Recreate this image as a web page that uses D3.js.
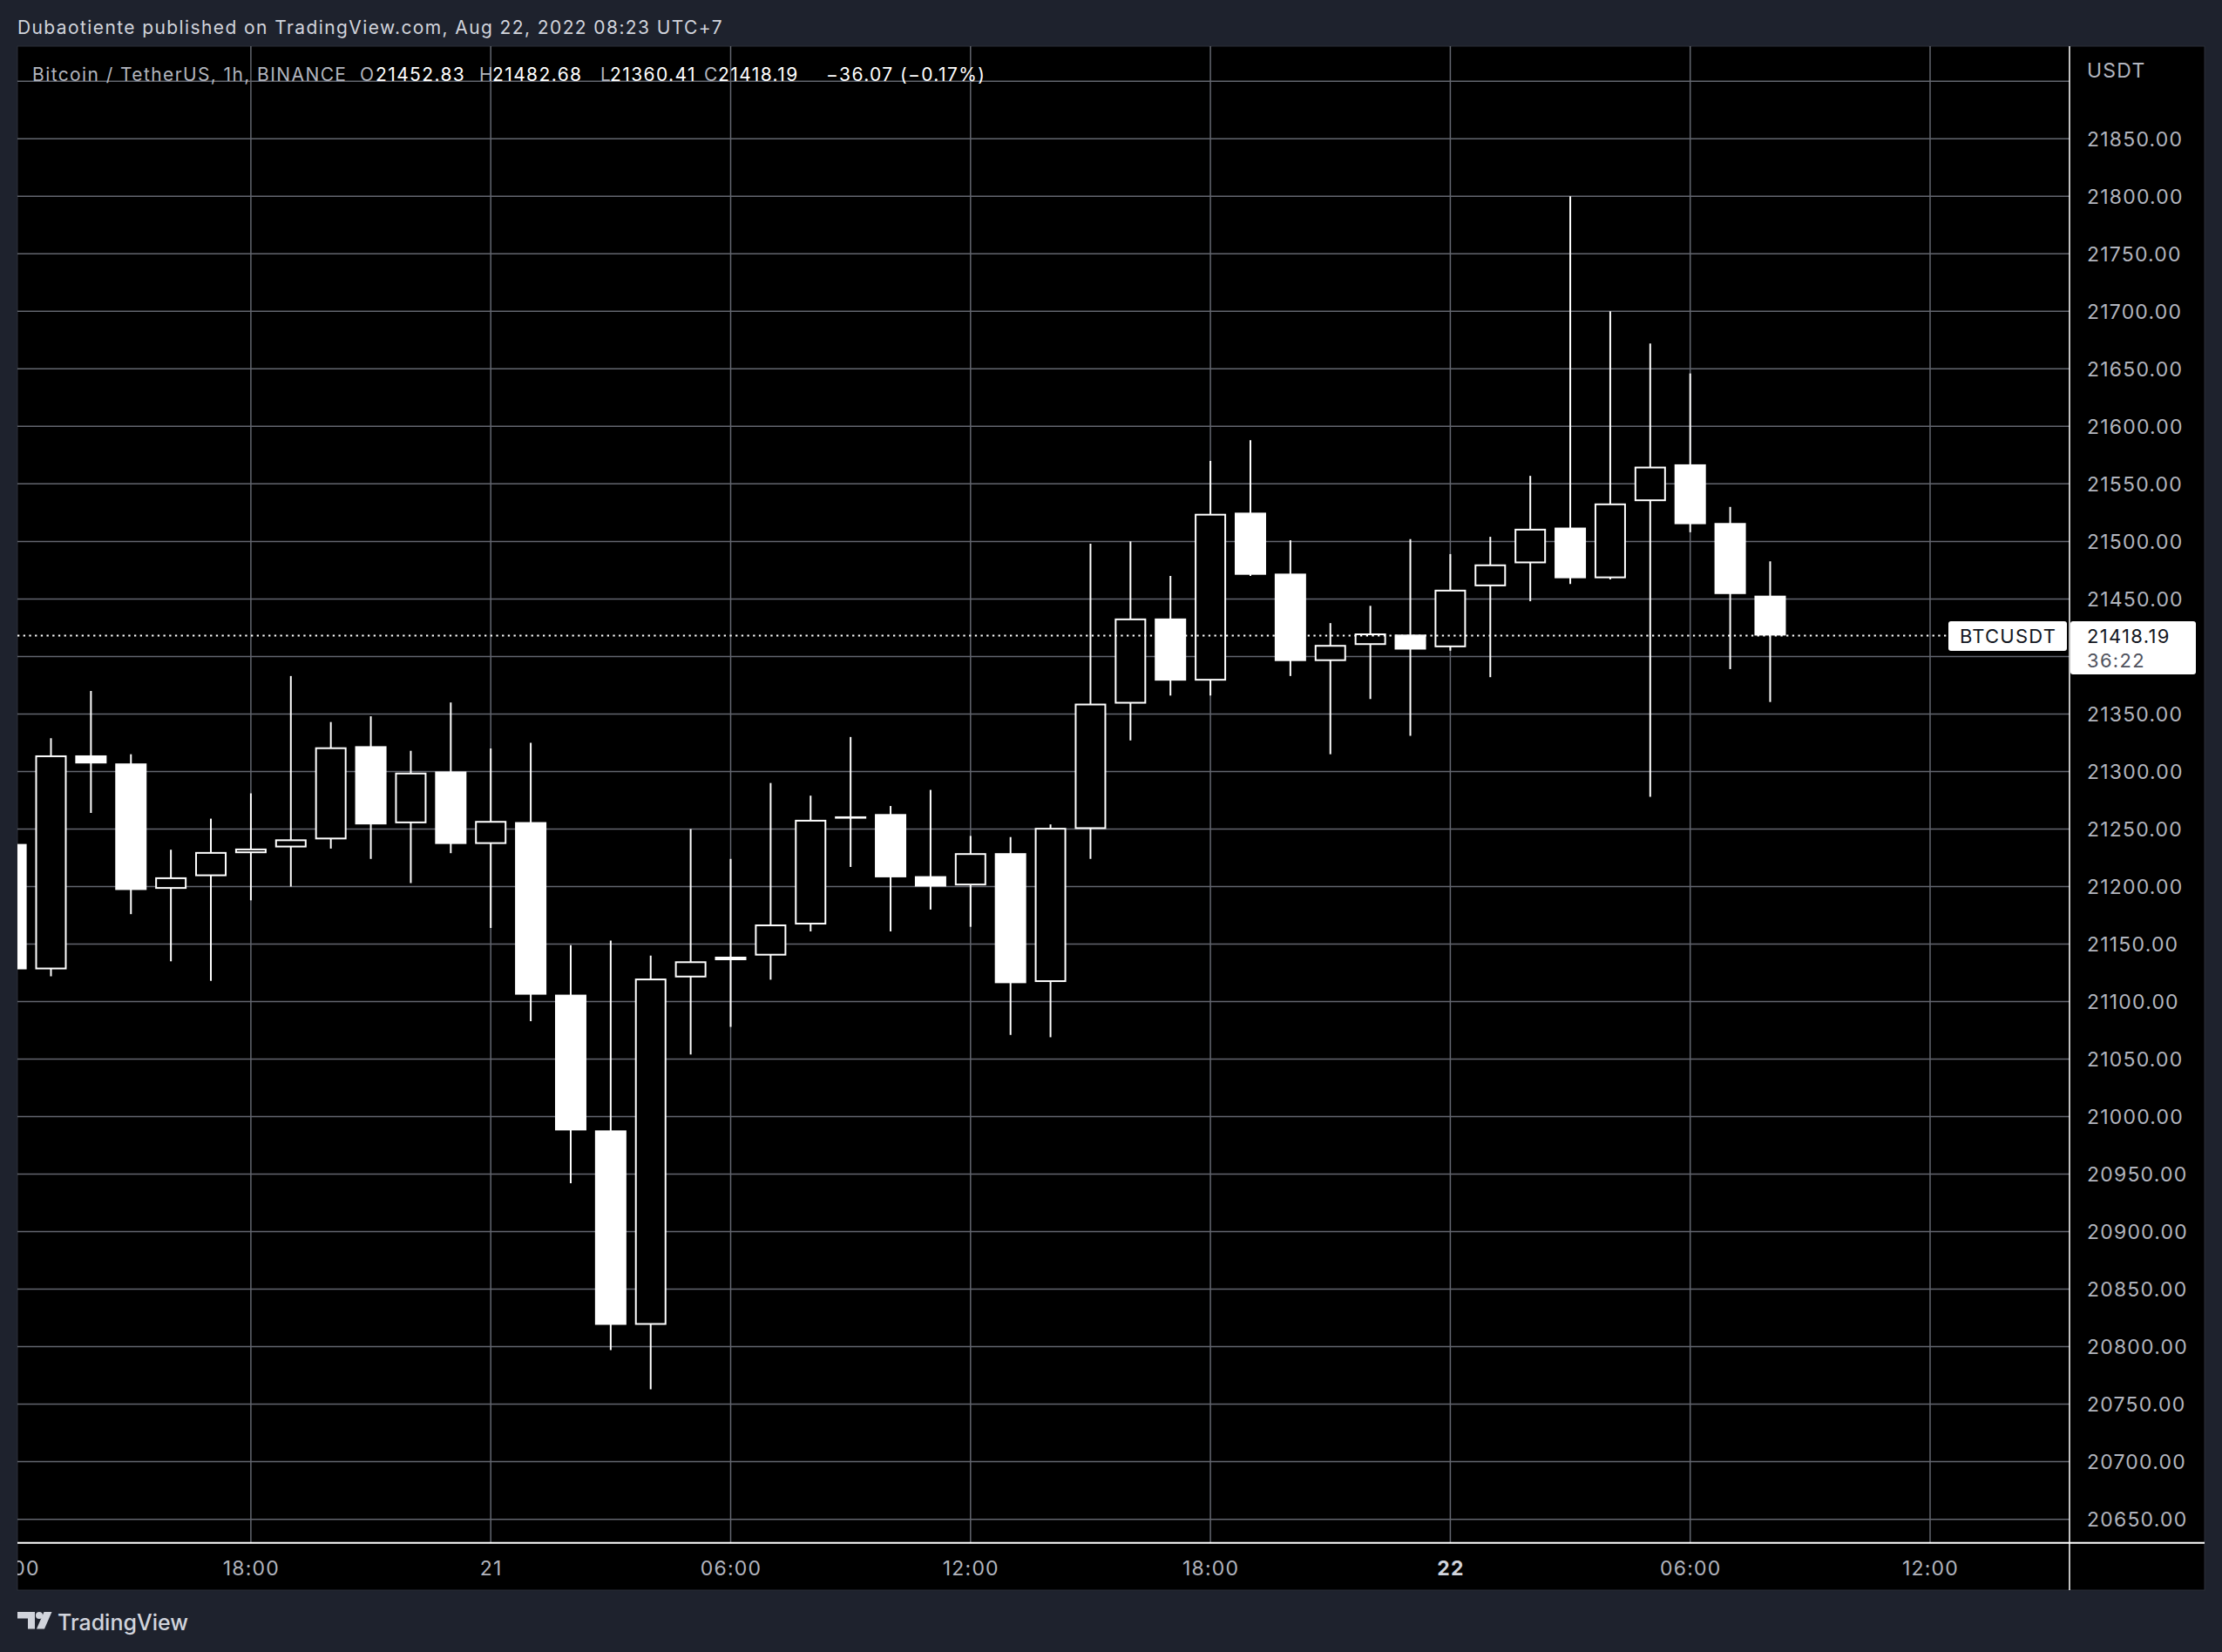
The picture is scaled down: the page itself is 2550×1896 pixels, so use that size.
<!DOCTYPE html>
<html><head><meta charset="utf-8">
<script src="https://cdn.jsdelivr.net/npm/d3@7"></script>
<style>
html,body{margin:0;padding:0;background:#1e222d;}
svg{display:block;}
text{font-family:Inter,"Noto Sans",sans-serif;}
</style></head><body>
<script>
// ---------- DATA ----------
const startTime = "2022-08-20T12:00:00Z"; // first (partially visible) hourly candle
const opens  = [21237,21128,21314,21307,21198,21209,21229,21234,21241,21322,21255,21300,21237,21256,21106,20988,20819,21121,21136,21140,21167,21261,21263,21209,21201,21229,21117,21250,21359,21433,21379,21525,21472,21396,21410,21419,21408,21461,21481,21512,21468,21535,21567,21516,21452.83];
const highs  = [21262,21329,21370,21315,21232,21259,21281,21383,21343,21348,21318,21360,21320,21325,21149,21153,21140,21250,21224,21290,21279,21330,21270,21284,21244,21243,21254,21498,21500,21470,21570,21588,21501,21429,21444,21502,21489,21504,21557,21800,21700,21672,21646,21530,21482.68];
const lows   = [21110,21122,21264,21176,21135,21118,21188,21200,21233,21224,21203,21229,21164,21083,20942,20797,20763,21054,21078,21119,21161,21217,21161,21180,21165,21071,21069,21224,21327,21366,21366,21470,21383,21315,21363,21331,21405,21382,21448,21463,21467,21278,21508,21389,21360.41];
const closes = [21128,21314,21307,21197,21208,21230,21233,21241,21321,21254,21299,21237,21257,21106,20988,20819,21120,21135,21139,21167,21258,21259,21208,21200,21229,21116,21251,21359,21433,21379,21524,21471,21396,21410,21420,21406,21458,21480,21511,21468,21533,21565,21515,21454.26,21418.19];

const priceTicks = [20650,20700,20750,20800,20850,20900,20950,21000,21050,21100,21150,21200,21250,21300,21350,21400,21450,21500,21550,21600,21650,21700,21750,21800,21850,21900];
const labelledPriceTicks = priceTicks.filter(p => p < 21900);
const timeTicks = ["2022-08-20T12:00:00Z","2022-08-20T18:00:00Z","2022-08-21T00:00:00Z","2022-08-21T06:00:00Z","2022-08-21T12:00:00Z","2022-08-21T18:00:00Z","2022-08-22T00:00:00Z","2022-08-22T06:00:00Z","2022-08-22T12:00:00Z"];
const timeTickLabels = ["12:00","18:00","21","06:00","12:00","18:00","22","06:00","12:00"];
const boldTickLabels = ["22"];

const symbolName = "Bitcoin / TetherUS, 1h, BINANCE";
const tickerName = "BTCUSDT";
const currency = "USDT";
const countdown = "36:22";
const publishedText = "Dubaotiente published on TradingView.com, Aug 22, 2022 08:23 UTC+7";

// ---------- LAYOUT ----------
const W = 2550, H = 1896;
const pane = {l: 20, t: 53, r: 2530, b: 1825};
const plot = {l: 20, t: 53, r: 2375, b: 1770.7};
const LS = 1.4; // letter spacing to mimic the original UI font tracking

const svg = d3.select("body").append("svg").attr("width", W).attr("height", H);
svg.append("rect").attr("width", W).attr("height", H).attr("fill", "#1e222d");
svg.append("rect").attr("x", pane.l).attr("y", pane.t).attr("width", pane.r - pane.l).attr("height", pane.b - pane.t)
  .attr("fill", "#000").attr("stroke", "#2a2e39").attr("stroke-width", 1);

const defs = svg.append("defs");
defs.append("clipPath").attr("id", "plotClip").append("rect")
  .attr("x", plot.l).attr("y", plot.t).attr("width", plot.r - plot.l).attr("height", plot.b - plot.t);
defs.append("clipPath").attr("id", "timeClip").append("rect")
  .attr("x", plot.l).attr("y", plot.b).attr("width", plot.r - plot.l).attr("height", pane.b - plot.b);

// ---------- SCALES ----------
const x = d3.scaleUtc()
  .domain([new Date(Date.UTC(2022,7,20,12,9,40)), new Date(Date.UTC(2022,7,22,15,29,13))])
  .range([plot.l, plot.r]);
const y = d3.scaleLinear().domain([20629.5, 21930.5]).range([plot.b, plot.t]);

const t0 = Date.parse(startTime);
const candles = opens.map((o, i) => ({
  t: new Date(t0 + i * 3600e3), o, h: highs[i], l: lows[i], c: closes[i]
}));

// ---------- GRID ----------
const gridColor = "#63666f";
const grid = svg.append("g").attr("clip-path", "url(#plotClip)");
grid.selectAll("line.h").data(priceTicks).join("line")
  .attr("x1", plot.l).attr("x2", plot.r)
  .attr("y1", d => y(d)).attr("y2", d => y(d))
  .attr("stroke", gridColor).attr("stroke-width", 1.5);
grid.selectAll("line.v").data(timeTicks).join("line")
  .attr("x1", d => x(new Date(d))).attr("x2", d => x(new Date(d)))
  .attr("y1", plot.t).attr("y2", plot.b)
  .attr("stroke", gridColor).attr("stroke-width", 1.5);

// ---------- CANDLES ----------
const bw = 36;
const cg = svg.append("g").attr("clip-path", "url(#plotClip)");
const cs = cg.selectAll("g.c").data(candles).join("g");
cs.append("line")
  .attr("x1", d => x(d.t)).attr("x2", d => x(d.t))
  .attr("y1", d => y(d.h)).attr("y2", d => y(d.l))
  .attr("stroke", "#fff").attr("stroke-width", 2);
cs.append("rect")
  .attr("x", d => d.c >= d.o ? x(d.t) - bw/2 + 1 : x(d.t) - bw/2)
  .attr("width", d => d.c >= d.o ? bw - 2 : bw)
  .attr("y", d => d.c >= d.o ? y(d.c) + 1 : y(d.o))
  .attr("height", d => d.c >= d.o ? Math.max(2, y(d.o) - y(d.c) - 2) : Math.max(2.5, y(d.c) - y(d.o)))
  .attr("fill", d => d.c >= d.o ? "#000" : "#fff")
  .attr("stroke", d => d.c >= d.o ? "#fff" : "none")
  .attr("stroke-width", 2);

// ---------- LAST PRICE LINE ----------
const last = candles[candles.length - 1];
const prev = candles[candles.length - 2];
const yl = y(last.c);
svg.append("line").attr("x1", plot.l).attr("x2", 2236).attr("y1", yl).attr("y2", yl)
  .attr("stroke", "#fff").attr("stroke-width", 2).attr("stroke-dasharray", "2.3 4.4");

// ---------- AXIS BORDERS ----------
svg.append("line").attr("x1", pane.l).attr("x2", pane.r).attr("y1", plot.b).attr("y2", plot.b)
  .attr("stroke", "#fff").attr("stroke-width", 2);
svg.append("line").attr("x1", plot.r).attr("x2", plot.r).attr("y1", pane.t).attr("y2", pane.b)
  .attr("stroke", "#fff").attr("stroke-width", 1.5);

// ---------- PRICE AXIS ----------
const yAxis = d3.axisRight(y).tickValues(labelledPriceTicks).tickSize(0).tickPadding(20)
  .tickFormat(d3.format(".2f"));
const ya = svg.append("g").attr("transform", `translate(${plot.r},0)`).call(yAxis);
ya.select(".domain").remove();
ya.selectAll("text").attr("fill", "#b2b5be").attr("font-size", 23)
  .attr("font-family", "Inter, sans-serif").attr("dy", "0.35em").attr("letter-spacing", 1.2);

svg.append("text").attr("x", 2395).attr("y", 81).attr("dy", "0.35em").attr("letter-spacing", 1.2)
  .attr("fill", "#b2b5be").attr("font-size", 23).text(currency);

// ---------- TIME AXIS ----------
const xAxis = d3.axisBottom(x).tickValues(timeTicks.map(d => new Date(d))).tickSize(0)
  .tickFormat((d, i) => timeTickLabels[i]);
const xaWrap = svg.append("g").attr("clip-path", "url(#timeClip)");
const xa = xaWrap.append("g").attr("transform", `translate(0,${plot.b})`).call(xAxis);
xa.select(".domain").remove();
xa.selectAll("text").attr("y", 29.3).attr("dy", "0.35em").attr("font-size", 23)
  .attr("font-family", "Inter, sans-serif").attr("letter-spacing", 1.2)
  .attr("fill", (d, i) => boldTickLabels.includes(timeTickLabels[i]) ? "#d1d4dc" : "#b2b5be")
  .attr("font-weight", (d, i) => boldTickLabels.includes(timeTickLabels[i]) ? 700 : 400);

// ---------- LABELS ON PRICE ----------
svg.append("rect").attr("x", 2236).attr("y", 713).attr("width", 136).attr("height", 34).attr("rx", 3).attr("fill", "#fff");
svg.append("text").attr("x", 2249).attr("y", 730).attr("dy", "0.35em").attr("font-size", 22).attr("letter-spacing", 1.2)
  .attr("fill", "#131722").text(tickerName);
svg.append("rect").attr("x", 2376).attr("y", 713).attr("width", 144).attr("height", 61).attr("rx", 3).attr("fill", "#fff");
svg.append("text").attr("x", 2395).attr("y", 730).attr("dy", "0.35em").attr("font-size", 22).attr("letter-spacing", 1.3)
  .attr("fill", "#131722").text(d3.format(".2f")(last.c));
svg.append("text").attr("x", 2395).attr("y", 758).attr("dy", "0.35em").attr("font-size", 22).attr("letter-spacing", 1.3)
  .attr("fill", "#50535e").text(countdown);

// ---------- LEGEND ----------
const fmt = d3.format(".2f");
const chg = last.c - prev.c;
const minus = s => s.replace("-", "\u2212");
const lg = svg.append("text").attr("y", 93).attr("font-size", 21).attr("letter-spacing", LS);
lg.append("tspan").attr("x", 37).attr("fill", "#b2b5be").text(symbolName);
[["O", last.o, 413, 431], ["H", last.h, 550, 565], ["L", last.l, 689, 700], ["C", last.c, 808, 824]].forEach(([k, v, px, vx]) => {
  lg.append("tspan").attr("x", px).attr("fill", "#b2b5be").text(k);
  lg.append("tspan").attr("x", vx).attr("fill", "#fff").text(fmt(v));
});
lg.append("tspan").attr("x", 948).attr("fill", "#fff")
  .text(minus(fmt(chg)) + " (" + minus(d3.format(".2f")(chg / prev.c * 100)) + "%)");

// ---------- HEADER / FOOTER ----------
svg.append("text").attr("x", 20).attr("y", 39).attr("font-size", 21).attr("letter-spacing", LS)
  .attr("fill", "#d1d4dc").text(publishedText);

const logo = svg.append("g").attr("fill", "#d1d4dc");
logo.append("path").attr("d", "M20,1850 H40 V1869.5 H32 V1857.5 H20 Z");
logo.append("circle").attr("cx", 45).attr("cy", 1854).attr("r", 4);
logo.append("path").attr("d", "M50.5,1850 H59.5 L51,1869.5 H42 Z");
svg.append("text").attr("x", 66).attr("y", 1870.5).attr("font-size", 25).attr("font-weight", 500)
  .attr("fill", "#d1d4dc").text("TradingView");
</script>
</body></html>
